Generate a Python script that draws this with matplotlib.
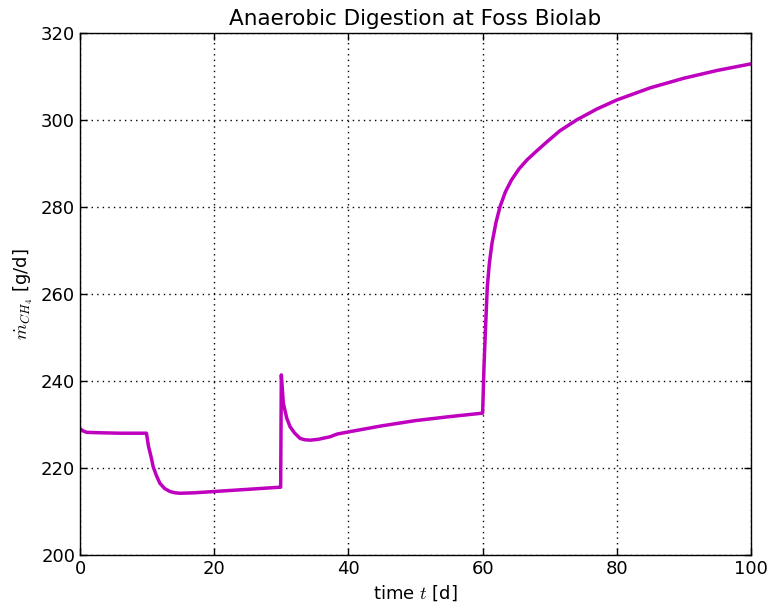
import matplotlib
matplotlib.use("Agg")
import matplotlib.pyplot as plt

# values
t = [0, 0.5, 1, 3, 6, 9.9, 10.2, 10.6, 10.9, 11.4, 11.9, 12.6, 13.4, 14.2, 14.9, 17, 20, 25, 29.9,
     30, 30.3, 30.8, 31.3, 32, 32.8, 33.5, 34.3, 35.5, 37.3, 38.3, 40, 45, 50, 55, 59.9,
     60, 60.2, 60.4, 60.7, 61.0, 61.4, 62.0, 62.6, 63.4, 64.3, 65.4, 66.6, 68, 69.6, 71.5, 74, 77,
     80, 85, 90, 95, 100]
m_ch4 = [229.0, 228.5, 228.2, 228.1, 228.0, 228.0, 225.0, 222.5, 220.3, 218.2, 216.5, 215.3, 214.6, 214.3, 214.2, 214.3, 214.6, 215.1, 215.6,
         241.4, 234.9, 231.5, 229.5, 228.0, 226.8, 226.5, 226.4, 226.6, 227.2, 227.8, 228.3, 229.7, 230.9, 231.8, 232.6,
         232.6, 243.0, 251.0, 261.7, 267.0, 271.7, 276.5, 280.1, 283.5, 286.2, 288.7, 290.8, 292.8, 295.0, 297.5, 300.0, 302.5,
         304.6, 307.4, 309.6, 311.4, 312.9]

plt.rcParams['mathtext.fontset'] = 'cm'
plt.rcParams['font.size'] = 13

fig = plt.figure(figsize=(7.74, 6.05), dpi=100)
ax = fig.add_axes([0.1034, 0.0826, 0.8669, 0.8629])
ax.plot(t, m_ch4, color=(0.75, 0, 0.75), lw=2.5)

ax.set_xlim(0, 100)
ax.set_ylim(200, 320)
ax.set_xticks([0, 20, 40, 60, 80, 100])
ax.set_yticks(range(200, 321, 20))
ax.tick_params(direction='in', top=True, right=True, length=5, width=1, labelsize=13, pad=3.5)
ax.grid(True, color='k', linestyle=(0, (1, 3)), linewidth=1)
for s in ax.spines.values():
    s.set_linewidth(1)

ax.set_title("Anaerobic Digestion at Foss Biolab", fontsize=15.5)
ax.set_xlabel("time $t$ [d]", fontsize=13)
ax.set_ylabel(r"$\dot m_{CH_4}$ [g/d]", fontsize=13)

fig.savefig("out.png", dpi=100)
